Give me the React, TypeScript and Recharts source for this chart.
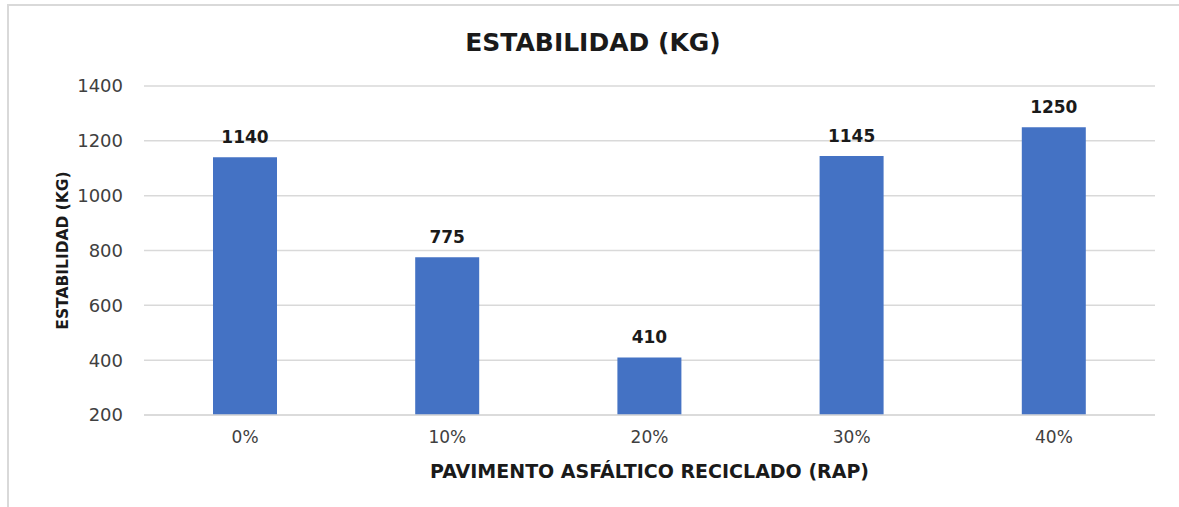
import React from "react";
import { BarChart, Bar, XAxis, YAxis, CartesianGrid, LabelList } from "recharts";

const categories = ["0%", "10%", "20%", "30%", "40%"];
const estabilidad = [1140, 775, 410, 1145, 1250];
const yTicks = [200, 400, 600, 800, 1000, 1200, 1400];

const BAR_COLOR = "#4472C4";
const GRID = "#d9d9d9";
const FONT = "'DejaVu Sans', sans-serif";

const data = categories.map((c, i) => ({ label: c, value: estabilidad[i] }));

export default function App() {
  return (
    <div
      style={{
        position: "absolute",
        left: 0,
        top: 0,
        width: 1179,
        height: 507,
        overflow: "hidden",
        background: "#fff",
        fontFamily: FONT,
      }}
    >
      {/* chart frame, cut off on the right and bottom like the source */}
      <div
        style={{
          position: "absolute",
          left: 7,
          top: 4,
          width: 1240,
          height: 600,
          border: `2px solid ${GRID}`,
          boxSizing: "border-box",
        }}
      />
      <div
        style={{
          position: "absolute",
          left: 7,
          width: 1172,
          top: 27,
          textAlign: "center",
          fontSize: 25,
          fontWeight: 700,
          color: "#1a1a1a",
          lineHeight: "32px",
        }}
      >
        ESTABILIDAD (KG)
      </div>
      <div style={{ position: "absolute", left: 0, top: 0 }}>
        <BarChart
          width={1179}
          height={507}
          data={data}
          margin={{ top: 86, right: 24, bottom: 62, left: 0 }}
          barSize={64}
        >
          <CartesianGrid vertical={false} stroke={GRID} strokeWidth={1.5} />
          <XAxis
            dataKey="label"
            axisLine={{ stroke: GRID, strokeWidth: 1.5 }}
            tickLine={false}
            tickMargin={10}
            tick={{ fontSize: 17, fill: "#404040", fontFamily: FONT }}
            height={30}
            label={{
              value: "PAVIMENTO ASFÁLTICO RECICLADO (RAP)",
              position: "bottom",
              offset: 20,
              style: { fontSize: 19, fontWeight: 700, fill: "#1a1a1a", fontFamily: FONT },
            }}
          />
          <YAxis
            width={144}
            domain={[200, 1400]}
            ticks={yTicks}
            allowDataOverflow
            axisLine={false}
            tickLine={false}
            tickMargin={15}
            tick={{ fontSize: 18, fill: "#404040", fontFamily: FONT }}
            label={{
              value: "ESTABILIDAD (KG)",
              angle: -90,
              position: "insideLeft",
              offset: 62,
              style: {
                textAnchor: "middle",
                fontSize: 15.5,
                fontWeight: 700,
                fill: "#1a1a1a",
                fontFamily: FONT,
              },
            }}
          />
          <Bar dataKey="value" fill={BAR_COLOR} isAnimationActive={false}>
            <LabelList
              dataKey="value"
              position="top"
              offset={14}
              style={{ fontSize: 17, fontWeight: 700, fill: "#1a1a1a", fontFamily: FONT }}
            />
          </Bar>
        </BarChart>
      </div>
    </div>
  );
}
